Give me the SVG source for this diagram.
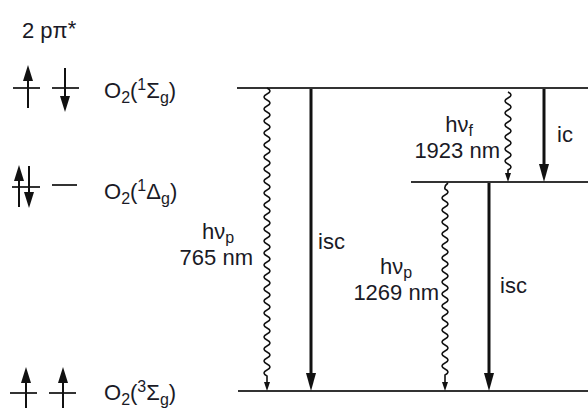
<svg xmlns="http://www.w3.org/2000/svg" width="588" height="408" viewBox="0 0 588 408">
<style>
text{font-family:"Liberation Sans",Arial,sans-serif;font-size:22px;fill:#1a1a26}
.sm{font-size:16px}
.lvl{stroke:#333;stroke-width:2;fill:none}
.thick{stroke:#111;stroke-width:3;fill:none}
.wave{stroke:#111;stroke-width:1.6;fill:none;stroke-linejoin:round}
.spin{stroke:#111;stroke-width:2;fill:none}
.bar{stroke:#333;stroke-width:2;fill:none}
</style>
<defs>
<marker id="big" markerUnits="userSpaceOnUse" viewBox="0 0 18 10" markerWidth="18" markerHeight="10" refX="6" refY="5" orient="auto"><path d="M0,0 L18,5 L0,10 z" fill="#111"/></marker>
<marker id="small" markerUnits="userSpaceOnUse" viewBox="0 0 9 6" markerWidth="9" markerHeight="6" refX="2" refY="3" orient="auto"><path d="M0,0 L9,3 L0,6 z" fill="#111"/></marker>
<marker id="sp" markerUnits="userSpaceOnUse" viewBox="0 0 16 10" markerWidth="16" markerHeight="10" refX="5" refY="5" orient="auto"><path d="M0,0 L16,5 L0,10 z" fill="#111"/></marker>
</defs>

<g id="levels">
<line class="lvl" x1="237" y1="88" x2="588" y2="88"/>
<line class="lvl" x1="411" y1="182" x2="588" y2="182"/>
<line class="lvl" x1="238" y1="391" x2="588" y2="391"/>
</g>

<g id="label-2ppi">
<text x="22" y="38">2 pπ<tspan dy="-2">*</tspan></text>
</g>

<g id="state-sigma1">
<line class="bar" x1="13" y1="88" x2="40" y2="88"/>
<line class="spin" x1="28" y1="108" x2="28" y2="76" marker-end="url(#sp)"/>
<line class="bar" x1="52" y1="88" x2="79" y2="88"/>
<line class="spin" x1="65" y1="68" x2="65" y2="101" marker-end="url(#sp)"/>
<text x="104" y="98">O<tspan class="sm" dy="5">2</tspan><tspan dy="-5">(</tspan><tspan class="sm" dy="-8">1</tspan><tspan dy="8">Σ</tspan><tspan class="sm" dy="5">g</tspan><tspan dy="-5">)</tspan></text>
</g>

<g id="state-delta">
<line class="bar" x1="12" y1="187" x2="40" y2="187"/>
<line class="spin" x1="19" y1="207" x2="19" y2="176" marker-end="url(#sp)"/>
<line class="spin" x1="29" y1="166" x2="29" y2="197" marker-end="url(#sp)"/>
<line class="bar" x1="52" y1="185" x2="77" y2="185"/>
<text x="104" y="199">O<tspan class="sm" dy="5">2</tspan><tspan dy="-5">(</tspan><tspan class="sm" dy="-8">1</tspan><tspan dy="8">Δ</tspan><tspan class="sm" dy="5">g</tspan><tspan dy="-5">)</tspan></text>
</g>

<g id="state-sigma3">
<line class="bar" x1="10" y1="393" x2="37" y2="393"/>
<line class="spin" x1="26" y1="408" x2="26" y2="378" marker-end="url(#sp)"/>
<line class="bar" x1="49" y1="393" x2="76" y2="393"/>
<line class="spin" x1="63" y1="408" x2="63" y2="378" marker-end="url(#sp)"/>
<text x="104" y="400">O<tspan class="sm" dy="5">2</tspan><tspan dy="-5">(</tspan><tspan class="sm" dy="-8">3</tspan><tspan dy="8">Σ</tspan><tspan class="sm" dy="5">g</tspan><tspan dy="-5">)</tspan></text>
</g>

<g id="connectors">
<path class="wave" d="M267,88 q6,3 0,6 t0,6 t0,6 t0,6 t0,6 t0,6 t0,6 t0,6 t0,6 t0,6 t0,6 t0,6 t0,6 t0,6 t0,6 t0,6 t0,6 t0,6 t0,6 t0,6 t0,6 t0,6 t0,6 t0,6 t0,6 t0,6 t0,6 t0,6 t0,6 t0,6 t0,6 t0,6 t0,6 t0,6 t0,6 t0,6 t0,6 t0,6 t0,6 t0,6 t0,6 t0,6 t0,6 t0,6 t0,6 t0,6 t0,6 t0,6 L267,384" marker-end="url(#small)"/>
<line class="thick" x1="311" y1="89" x2="311" y2="379" marker-end="url(#big)"/>
<path class="wave" d="M508,92 q6,3 0,6 t0,6 t0,6 t0,6 t0,6 t0,6 t0,6 t0,6 t0,6 t0,6 t0,6 t0,6 t0,6 L508,175" marker-end="url(#small)"/>
<line class="thick" x1="544" y1="89" x2="544" y2="170" marker-end="url(#big)"/>
<path class="wave" d="M448,183 q-4,3 -3,6 q6,3 0,6 t0,6 t0,6 t0,6 t0,6 t0,6 t0,6 t0,6 t0,6 t0,6 t0,6 t0,6 t0,6 t0,6 t0,6 t0,6 t0,6 t0,6 t0,6 t0,6 t0,6 t0,6 t0,6 t0,6 t0,6 t0,6 t0,6 t0,6 t0,6 t0,6 t0,6 L445,384" marker-end="url(#small)"/>
<line class="thick" x1="489" y1="183" x2="489" y2="379" marker-end="url(#big)"/>
</g>

<g id="label-hvp765">
<text x="218" y="239" text-anchor="middle">hν<tspan class="sm" dy="4">p</tspan></text>
<text x="253" y="265" text-anchor="end">765 nm</text>
</g>
<g id="label-isc1"><text x="318" y="249">isc</text></g>
<g id="label-hvf">
<text x="459" y="132" text-anchor="middle">hν<tspan class="sm" dy="4">f</tspan></text>
<text x="500" y="158" text-anchor="end">1923 nm</text>
</g>
<g id="label-ic"><text x="557" y="142">ic</text></g>
<g id="label-hvp1269">
<text x="396" y="274" text-anchor="middle">hν<tspan class="sm" dy="4">p</tspan></text>
<text x="439" y="300" text-anchor="end">1269 nm</text>
</g>
<g id="label-isc2"><text x="500" y="293">isc</text></g>
</svg>
